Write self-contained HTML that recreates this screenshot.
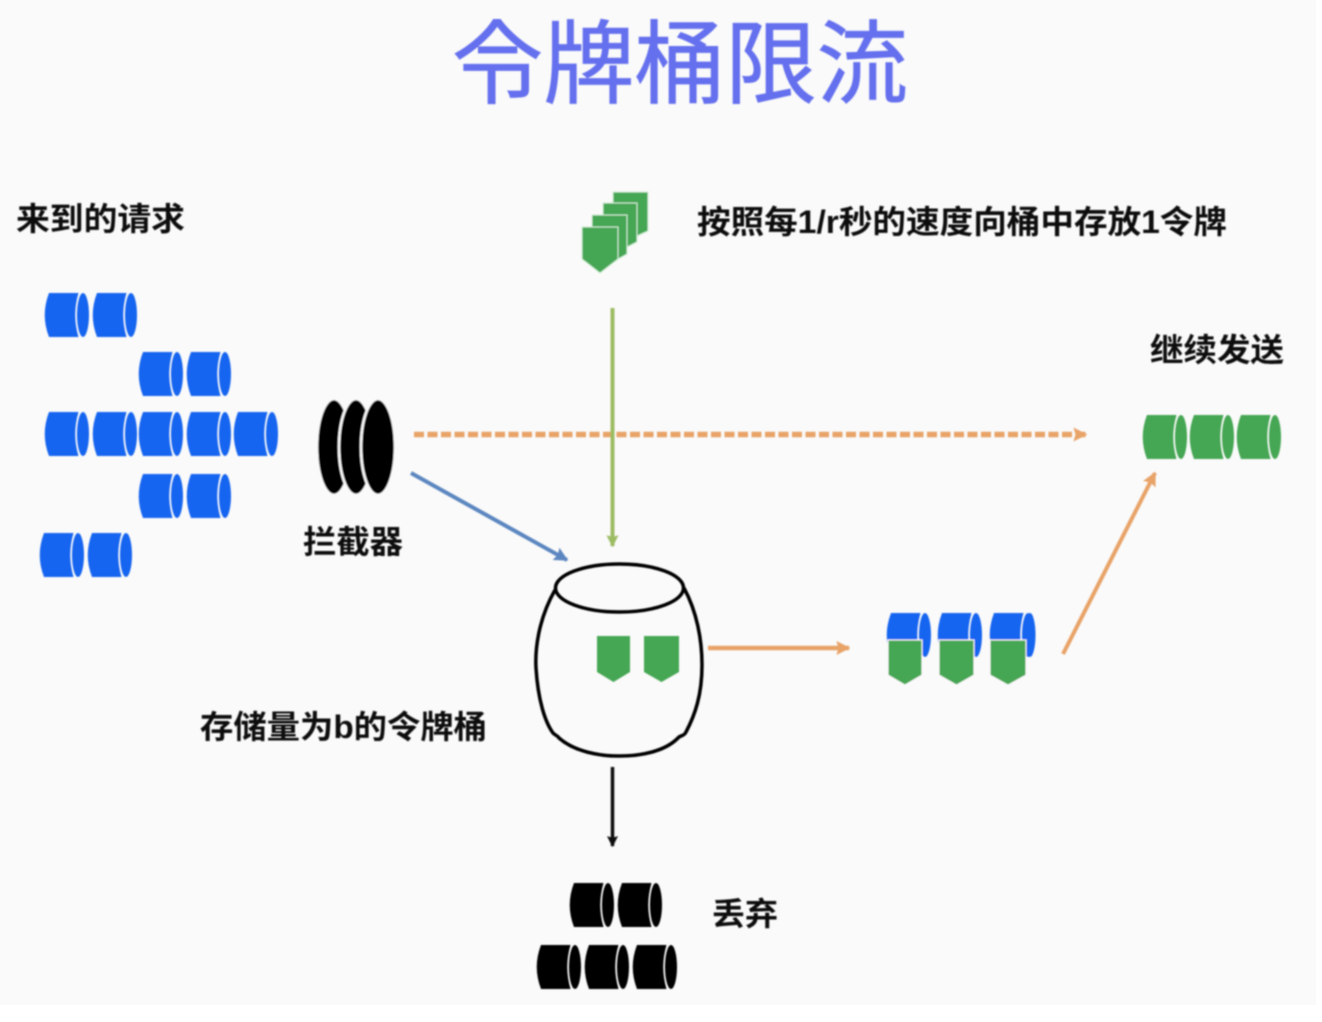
<!DOCTYPE html>
<html><head><meta charset="utf-8"><style>
html,body{margin:0;padding:0;background:#fff}
svg{display:block}
text{font-family:"Liberation Sans","Noto Sans CJK SC",sans-serif}
.l{font-size:32px;font-weight:700;fill:#111}
</style></head><body>
<svg width="1322" height="1022" viewBox="0 0 1322 1022" xmlns="http://www.w3.org/2000/svg">
<defs>
<filter id="b" x="-5%" y="-5%" width="110%" height="110%"><feGaussianBlur stdDeviation="0.9"/></filter>
<symbol id="c" viewBox="0 0 44 44" width="44" height="44" overflow="visible">
<path d="M4,0H33.500Q27,22 33.500,44H4Q-4.500,22 4,0Z"/>
<ellipse cx="38" cy="22" rx="6" ry="22"/>
</symbol>
<marker id="m1" markerUnits="userSpaceOnUse" viewBox="0 0 10 10" refX="9" refY="5" markerWidth="15" markerHeight="14" orient="auto"><path d="M0,0L10,5L0,10L1.500,5Z" fill="#e8a368"/></marker>
<marker id="m2" markerUnits="userSpaceOnUse" viewBox="0 0 10 10" refX="9" refY="5" markerWidth="15" markerHeight="14" orient="auto"><path d="M0,0L10,5L0,10L1.500,5Z" fill="#5b86c0"/></marker>
<marker id="m3" markerUnits="userSpaceOnUse" viewBox="0 0 10 10" refX="9" refY="5" markerWidth="14" markerHeight="12" orient="auto"><path d="M0,0L10,5L0,10L1.500,5Z" fill="#9cbc63"/></marker>
<marker id="m4" markerUnits="userSpaceOnUse" viewBox="0 0 10 10" refX="9" refY="5" markerWidth="13" markerHeight="11" orient="auto"><path d="M0,0L10,5L0,10L1.500,5Z" fill="#111"/></marker>
</defs>
<rect width="1316" height="1005" fill="#fafafa"/>
<g filter="url(#b)">
<text x="452" y="96" font-size="91" font-weight="400" fill="#6570ee" textLength="456" lengthAdjust="spacingAndGlyphs" style="font-family:'Noto Sans CJK KR','Noto Sans CJK SC',sans-serif" stroke="#6570ee" stroke-width="0.800">令牌桶限流</text>
<text class="l" x="16" y="230" textLength="169" lengthAdjust="spacingAndGlyphs">来到的请求</text>
<text class="l" x="697" y="233" textLength="530" lengthAdjust="spacingAndGlyphs">按照每1/r秒的速度向桶中存放1令牌</text>
<text class="l" x="1150" y="361" textLength="134" lengthAdjust="spacingAndGlyphs">继续发送</text>
<text class="l" x="303" y="553" textLength="100" lengthAdjust="spacingAndGlyphs">拦截器</text>
<text class="l" x="200" y="738" textLength="287" lengthAdjust="spacingAndGlyphs">存储量为b的令牌桶</text>
<text class="l" x="712" y="925" textLength="66" lengthAdjust="spacingAndGlyphs">丢弃</text>

<g fill="#1565f0">
<use href="#c" x="45" y="293"/><use href="#c" x="93" y="293"/>
<use href="#c" x="139" y="352"/><use href="#c" x="187" y="352"/>
<use href="#c" x="45" y="412"/><use href="#c" x="93" y="412"/><use href="#c" x="139" y="412"/><use href="#c" x="187" y="412"/><use href="#c" x="234" y="412"/>
<use href="#c" x="139" y="474"/><use href="#c" x="187" y="474"/>
<use href="#c" x="40" y="533"/><use href="#c" x="88" y="533"/>
</g>

<g fill="#000" stroke="#fafafa" stroke-width="2.500">
<ellipse cx="334" cy="447" rx="17" ry="48"/>
<ellipse cx="356" cy="447" rx="17" ry="48"/>
<ellipse cx="378" cy="447" rx="17" ry="48"/>
</g>

<line x1="414" y1="434.500" x2="1086" y2="434.500" stroke="#e8a368" stroke-width="5.500" stroke-dasharray="10 3.500" marker-end="url(#m1)"/>
<line x1="612.500" y1="308" x2="612.500" y2="546" stroke="#9cbc63" stroke-width="4" marker-end="url(#m3)"/>
<line x1="411" y1="473" x2="567" y2="560" stroke="#5b86c0" stroke-width="4" marker-end="url(#m2)"/>
<line x1="708" y1="648" x2="849" y2="648" stroke="#e8a368" stroke-width="4.500" marker-end="url(#m1)"/>
<line x1="1063" y1="654" x2="1155" y2="473" stroke="#e8a368" stroke-width="4" marker-end="url(#m1)"/>
<line x1="612.500" y1="767" x2="612.500" y2="846" stroke="#111" stroke-width="3.500" marker-end="url(#m4)"/>

<g fill="#45a653" stroke="#cfeed5" stroke-width="1">
<path d="M613,192H648V231L637,236V203H613Z"/>
<path d="M603,203H637V242L627,247V215H603Z"/>
<path d="M592,215H627V254L618,259V227H592Z"/>
<path d="M582,227H618V259L600,273L582,259Z"/>
</g>

<g fill="none" stroke="#000" stroke-width="3.500">
<path d="M555,590C538,620 535,650 536,668C538,700 545,722 553,733C556,736 557,735 559,738C575,752 600,756 619,756C640,756 665,752 679,737C682,735 684,736 686,732C695,715 702,695 702,665C702,640 697,612 684,588"/>
<ellipse cx="619.500" cy="588" rx="64" ry="24"/>
</g>

<g fill="#45a653">
<path d="M597,636H630V672L613.500,682L597,672Z"/>
<path d="M644,636H679V672L661.500,682L644,672Z"/>
</g>

<g fill="#1565f0">
<use href="#c" x="887" y="613"/><use href="#c" x="938" y="613"/><use href="#c" x="990" y="613"/>
<ellipse cx="1030" cy="635" rx="5.500" ry="22"/>
</g>
<g fill="#45a653" stroke="#fafafa" stroke-width="1">
<path d="M888,640H922V675L905,685L888,675Z"/>
<path d="M939,640H974V675L956.500,685L939,675Z"/>
<path d="M990,640H1026V675L1008,685L990,675Z"/>
</g>

<g fill="#45a653">
<use href="#c" x="1143" y="415"/><use href="#c" x="1190" y="415"/><use href="#c" x="1237" y="415"/>
</g>
<g fill="#000">
<use href="#c" x="570" y="883"/><use href="#c" x="618" y="883"/>
<use href="#c" x="537" y="945"/><use href="#c" x="585" y="945"/><use href="#c" x="633" y="945"/>
</g>
</g>
</svg>
</body></html>
